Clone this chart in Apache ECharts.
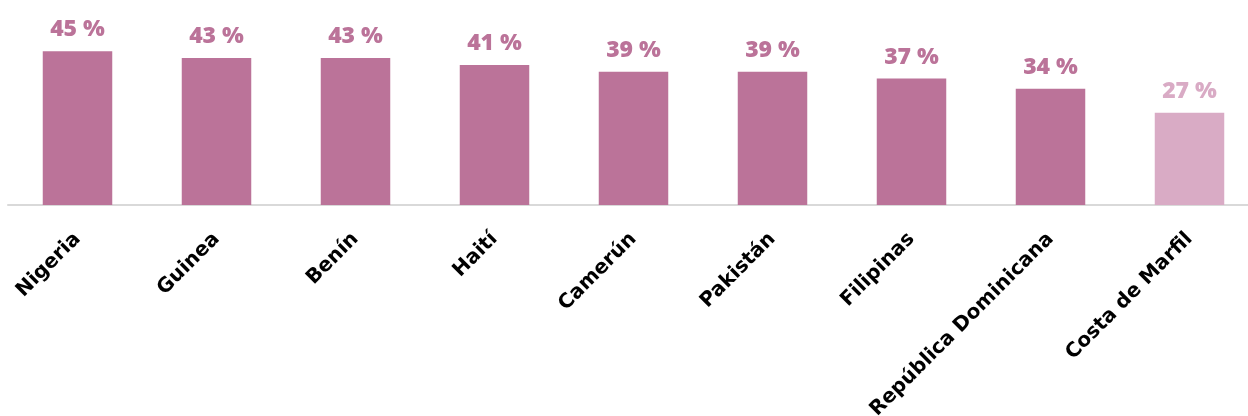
<!DOCTYPE html>
<html>
<head>
<meta charset="utf-8">
<script src="https://cdn.jsdelivr.net/npm/echarts@6/dist/echarts.min.js"></script>
<style>
  html, body { margin: 0; padding: 0; background: #ffffff; }
  #chart { width: 1248px; height: 416px; }
</style>
</head>
<body>
<div id="chart"></div>
<script>
// Países y porcentajes
const countries = ['Nigeria', 'Guinea', 'Benín', 'Haití', 'Camerún', 'Pakistán', 'Filipinas', 'República Dominicana', 'Costa de Marfil'];
const values = [45, 43, 43, 41, 39, 39, 37, 34, 27];
// El último país se resalta con un tono más claro
const highlightIndex = [8];

const mainColor = '#BB7399';
const lightColor = '#D9ABC5';
const axisFont = '"DejaVu Sans", "Open Sans", sans-serif';
const valueFont = '"Open Sans", "DejaVu Sans", sans-serif';

const chart = echarts.init(document.getElementById('chart'), null, { renderer: 'canvas' });

const seriesData = values.map((v, i) => {
  const c = highlightIndex.includes(i) ? lightColor : mainColor;
  return { value: v, itemStyle: { color: c }, label: { color: c } };
});

chart.setOption({
  animation: false,
  backgroundColor: '#ffffff',
  grid: {
    left: 8, right: -11, top: 0, bottom: 211,
    outerBoundsMode: 'none',
    containLabel: false
  },
  xAxis: {
    type: 'category',
    data: countries,
    axisLine: { show: true, lineStyle: { color: '#D9D9D9', width: 2 } },
    axisTick: { show: false },
    axisLabel: {
      rotate: 45,
      interval: 0,
      margin: 31,
      color: '#000000',
      fontWeight: 'bold',
      fontSize: 20,
      fontFamily: axisFont
    }
  },
  yAxis: {
    type: 'value',
    min: 0,
    max: 60,
    show: false,
    splitLine: { show: false }
  },
  series: [{
    type: 'bar',
    data: seriesData,
    barWidth: '50%',
    label: {
      show: true,
      position: 'top',
      distance: 10,
      fontWeight: 800,
      fontSize: 23,
      fontFamily: valueFont,
      formatter: (p) => p.value + ' %'
    }
  }]
});
</script>
</body>
</html>
